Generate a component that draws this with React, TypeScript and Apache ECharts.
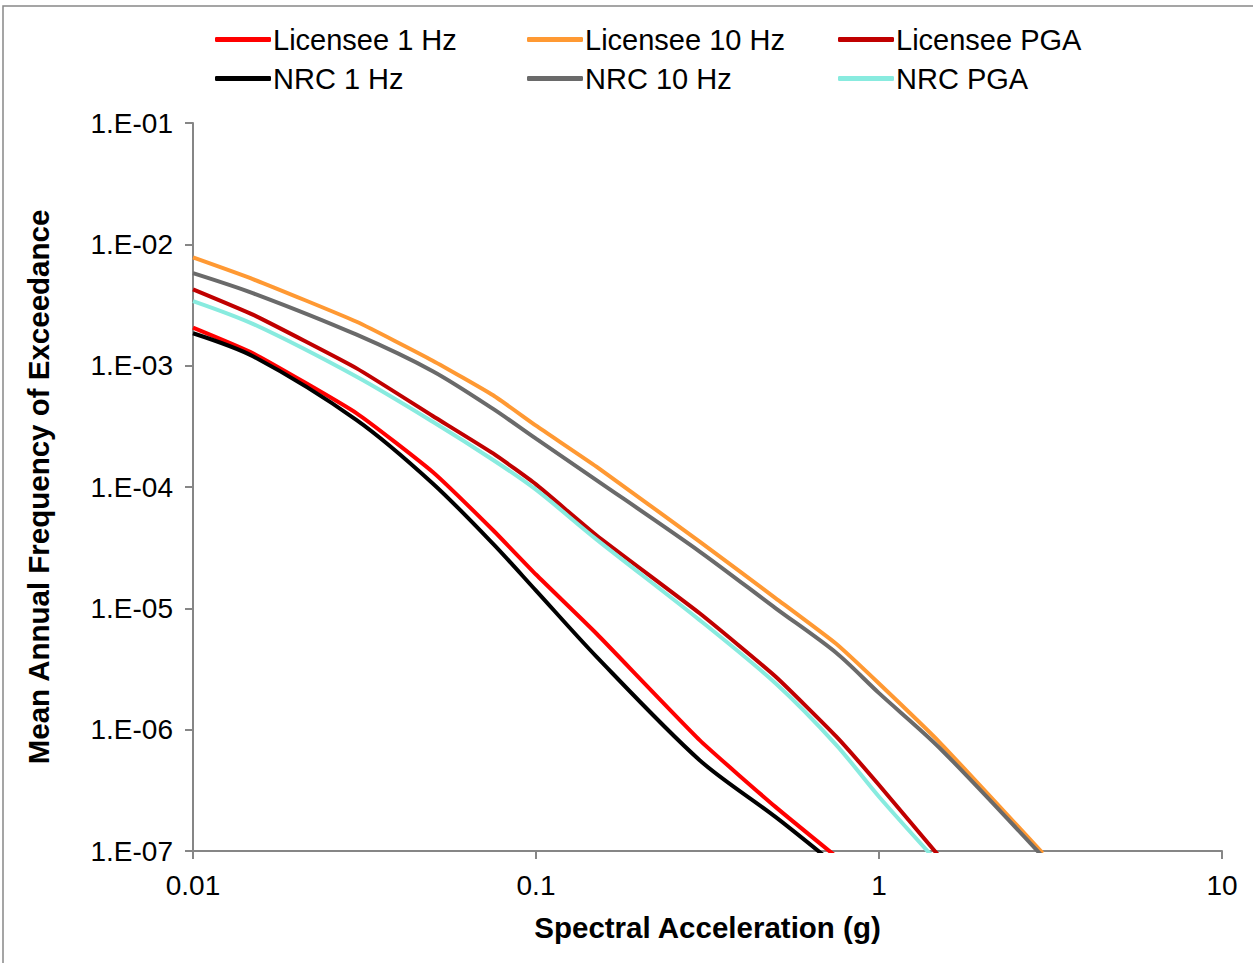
import React, { useEffect, useRef } from "react";
import * as echarts from "echarts";

const xValues = [0.01, 0.015, 0.03, 0.05, 0.075, 0.1, 0.15, 0.3, 0.5, 0.75, 1, 1.5, 3];

const licensee1Hz = [2.06e-3, 1.26e-3, 4.05e-4, 1.33e-4, 4.4e-5, 1.9e-5, 6.2e-6, 8.2e-7, 2.3e-7, 9.0e-8];
const licensee10Hz = [7.8e-3, 5.15e-3, 2.3e-3, 1.1e-3, 5.7e-4, 3.2e-4, 1.47e-4, 3.55e-5, 1.21e-5, 5.1e-6, 2.4e-6, 7.9e-7, 9.6e-8];
const licenseePGA = [4.26e-3, 2.62e-3, 9.5e-4, 3.85e-4, 1.89e-4, 1.05e-4, 4.0e-5, 9.1e-6, 2.73e-6, 8.8e-7, 3.5e-7, 9.0e-8];
const nrc1Hz = [1.85e-3, 1.19e-3, 3.56e-4, 1.07e-4, 3.4e-5, 1.4e-5, 4.0e-6, 5.6e-7, 1.9e-7, 7.6e-8];
const nrc10Hz = [5.8e-3, 3.95e-3, 1.8e-3, 9.0e-4, 4.4e-4, 2.5e-4, 1.14e-4, 2.94e-5, 1.0e-5, 4.3e-6, 2.0e-6, 7.1e-7, 9.0e-8];
const nrcPGA = [3.41e-3, 2.2e-3, 8.1e-4, 3.45e-4, 1.67e-4, 9.5e-5, 3.7e-5, 8.0e-6, 2.4e-6, 7.5e-7, 2.8e-7, 7.8e-8];

const seriesNames = ["Licensee 1 Hz", "Licensee 10 Hz", "Licensee PGA", "NRC 1 Hz", "NRC 10 Hz", "NRC PGA"];
const seriesValues = [licensee1Hz, licensee10Hz, licenseePGA, nrc1Hz, nrc10Hz, nrcPGA];
const seriesColors = ["#FF0000", "#FF9933", "#C00000", "#000000", "#6A6A6A", "#88EBDF"];
const seriesSmooth = [0.15, 0.15, 0.15, 0.3, 0.3, 0.3];

const xTitle = "Spectral Acceleration (g)";
const yTitle = "Mean Annual Frequency of Exceedance";

const FONT = "'Liberation Sans', Arial, sans-serif";

export default function App() {
  const ref = useRef<HTMLDivElement>(null);
  useEffect(() => {
    if (!ref.current) return;
    const chart = echarts.init(ref.current, null, { renderer: "svg" });
    const legendPos = [
      [215, 25], [527, 25], [838, 25],
      [215, 64], [527, 64], [838, 64],
    ];
    const option: any = {
      animation: false,
      backgroundColor: "#ffffff",
      graphic: [
        {
          type: "rect",
          shape: { x: 3, y: 6, width: 1270, height: 980 },
          style: { fill: "none", stroke: "#888888", lineWidth: 1.5 },
          silent: true,
        },
      ],
      legend: seriesNames.map((n, i) => ({
        data: [n],
        left: legendPos[i][0],
        top: legendPos[i][1],
        padding: 0,
        itemWidth: 56,
        itemHeight: 5,
        itemGap: 0,
        icon: "roundRect",
        textStyle: { fontSize: 29, fontFamily: FONT, color: "#000", padding: [0, 0, 0, -3] },
        selectedMode: false,
      })),
      grid: { left: 193, top: 123, width: 1029, height: 728, containLabel: false },
      xAxis: {
        type: "log",
        logBase: 10,
        min: 0.01,
        max: 10,
        splitNumber: 3,
        name: xTitle,
        nameLocation: "middle",
        nameGap: 61,
        nameTextStyle: { fontSize: 29.5, fontWeight: "bold", fontFamily: FONT, color: "#000" },
        axisLine: { show: true, lineStyle: { color: "#868686", width: 2 } },
        axisTick: { show: true, length: 8, lineStyle: { color: "#868686", width: 2 } },
        splitLine: { show: false },
        minorTick: { show: false },
        axisLabel: {
          fontSize: 28,
          fontFamily: FONT,
          color: "#000",
          margin: 20,
          formatter: (v: number) => {
            const e = Math.round(Math.log10(v));
            return e < 0 ? Math.pow(10, e).toFixed(-e) : String(Math.pow(10, e));
          },
        },
      },
      yAxis: {
        type: "log",
        logBase: 10,
        min: 1e-7,
        max: 0.1,
        splitNumber: 6,
        name: yTitle,
        nameLocation: "middle",
        nameGap: 140,
        nameTextStyle: { fontSize: 29.5, fontWeight: "bold", fontFamily: FONT, color: "#000" },
        axisLine: { show: true, lineStyle: { color: "#868686", width: 2 } },
        axisTick: { show: true, length: 8, lineStyle: { color: "#868686", width: 2 } },
        splitLine: { show: false },
        axisLabel: {
          fontSize: 28,
          fontFamily: FONT,
          color: "#000",
          margin: 20,
          formatter: (v: number) => {
            const e = Math.round(Math.log10(v));
            const a = Math.abs(e);
            return "1.E" + (e < 0 ? "-" : "+") + (a < 10 ? "0" + a : String(a));
          },
        },
      },
      series: seriesNames.map((n, i) => ({
        name: n,
        type: "line",
        data: seriesValues[i].map((v, j) => [xValues[j], v]),
        showSymbol: false,
        symbol: "none",
        smooth: seriesSmooth[i],
        clip: true,
        lineStyle: { color: seriesColors[i], width: 4 },
        itemStyle: { color: seriesColors[i] },
      })),
    };
    chart.setOption(option);
    return () => chart.dispose();
  }, []);
  return (
    <div
      ref={ref}
      style={{ position: "fixed", left: 0, top: 0, width: 1253, height: 963 }}
    />
  );
}
